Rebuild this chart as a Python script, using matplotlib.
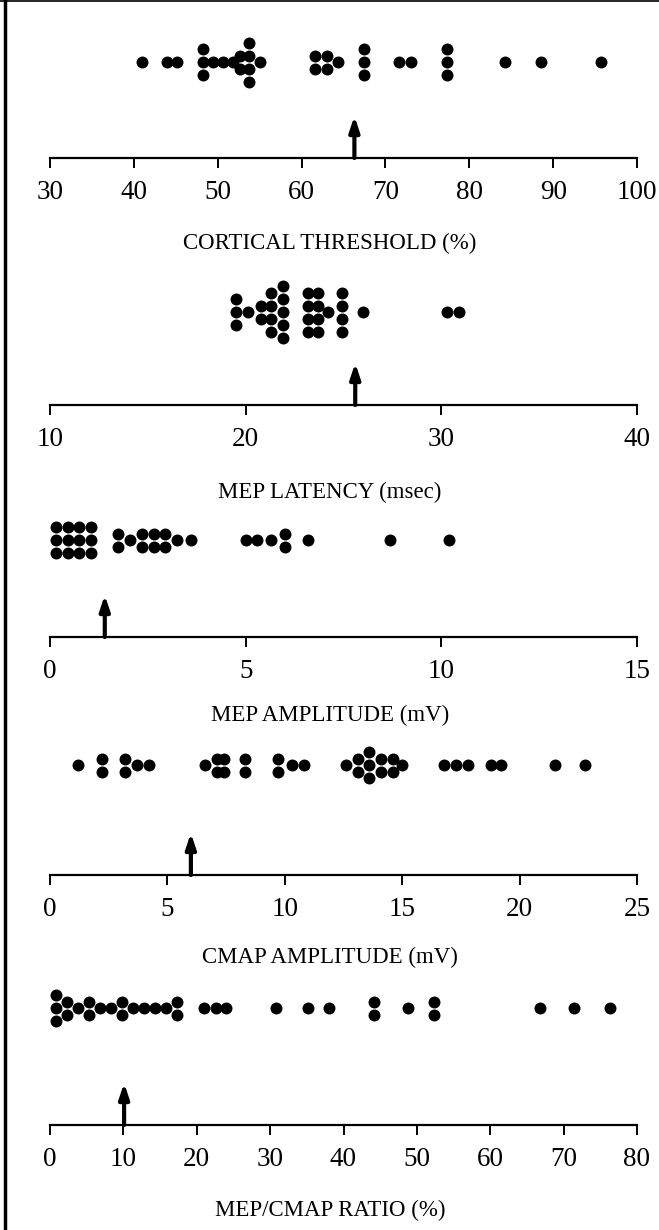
import numpy as np
import matplotlib
matplotlib.use("Agg")
import matplotlib.pyplot as plt
from matplotlib.lines import Line2D

# values, one dot per patient (repeats = stacked dots)
cortical = [41, 44, 45.2, 48.2, 48.2, 48.2, 49.4, 50.6, 51.8, 52.6, 52.6,
            53.7, 53.7, 53.7, 53.7, 55.0, 61.6, 61.6, 63.0, 63.0, 64.3,
            67.5, 67.5, 67.5, 71.6, 73.1, 77.3, 77.3, 77.3, 84.3, 88.5, 95.7]
latency = [19.5, 19.5, 19.5, 20.1, 20.8, 20.8, 21.3, 21.3, 21.3, 21.3,
           21.9, 21.9, 21.9, 21.9, 21.9, 23.2, 23.2, 23.2, 23.2,
           23.7, 23.7, 23.7, 23.7, 24.2, 24.9, 24.9, 24.9, 24.9,
           26.0, 30.3, 30.9]
mep_amp = [0.15, 0.15, 0.15, 0.45, 0.45, 0.45, 0.75, 0.75, 0.75,
           1.05, 1.05, 1.05, 1.75, 1.75, 2.05, 2.35, 2.35, 2.65, 2.65,
           2.95, 2.95, 3.25, 3.6, 5.0, 5.3, 5.65, 6.0, 6.0, 6.6, 8.7, 10.2]
cmap_amp = [1.2, 2.2, 2.2, 3.2, 3.2, 3.7, 4.2, 6.6, 7.1, 7.1, 7.4, 7.4,
            8.3, 8.3, 9.7, 9.7, 10.3, 10.8, 12.6, 13.1, 13.1, 13.6, 13.6,
            13.6, 14.1, 14.1, 14.6, 14.6, 15.0, 16.8, 17.3, 17.8, 18.8,
            19.2, 21.5, 22.8]
ratio = [0.8, 0.8, 0.8, 2.3, 2.3, 3.8, 5.3, 5.3, 6.8, 8.3, 9.8, 9.8,
         11.3, 12.8, 14.3, 15.8, 17.3, 17.3, 21.0, 22.6, 24.0, 30.8, 35.1,
         38.0, 44.2, 44.2, 48.8, 52.3, 52.3, 66.8, 71.4, 76.3]

# arrow markers (group means)
arrows = [66.3, 25.6, 1.4, 6.0, 10.1]

titles = ["CORTICAL THRESHOLD (%)", "MEP LATENCY (msec)", "MEP AMPLITUDE (mV)",
          "CMAP AMPLITUDE (mV)", "MEP/CMAP RATIO (%)"]
ranges = [(30, 100, 10), (10, 40, 10), (0, 15, 5), (0, 25, 5), (0, 80, 10)]
series = [cortical, latency, mep_amp, cmap_amp, ratio]

# layout in pixels from top of figure
W, H = 659, 1230
dots_y = [62, 312, 540, 765, 1008]
axis_y = [158, 405, 637, 875, 1125]
title_y = [243, 492, 715, 957, 1210]

plt.rcParams['font.family'] = ['Liberation Serif', 'DejaVu Serif']
fig = plt.figure(figsize=(W / 100, H / 100), dpi=100)

for i in range(5):
    top = dots_y[i] - 45
    ax = fig.add_axes([50 / W, (H - axis_y[i]) / H, 587 / W, (axis_y[i] - top) / H])
    ax.set_ylim(0, axis_y[i] - top)
    lo, hi, step = ranges[i]
    ax.set_xlim(lo, hi)
    ax.set_xticks(np.arange(lo, hi + step / 2, step))
    for s in ["top", "right", "left"]:
        ax.spines[s].set_visible(False)
    ax.spines["bottom"].set_linewidth(1.6)
    ax.set_yticks([])
    ax.tick_params(axis="x", length=7, width=1.4, pad=9, labelsize=19.5)
    ax.patch.set_alpha(0)

    vals, counts = np.unique(series[i], return_counts=True)
    row = axis_y[i] - dots_y[i]
    xs, ys = [], []
    for v, n in zip(vals, counts):
        for k in range(n):
            xs.append(v)
            ys.append(row + (k - (n - 1) / 2) * 13)
    ax.scatter(xs, ys, s=74, color="black", clip_on=False, zorder=3, linewidths=0)

    ax.annotate("", xy=(arrows[i], 42), xytext=(arrows[i], 0),
                arrowprops=dict(arrowstyle="-|>,head_width=0.3,head_length=0.9",
                                lw=3, color="black", shrinkA=0, shrinkB=0))

    fig.text(330 / W, 1 - title_y[i] / H, titles[i], ha="center", va="center",
             fontsize=16.5)

# frame line on the left of the page
fig.add_artist(Line2D([5 / W, 5 / W], [0, 1], color="black", lw=2.5))
fig.add_artist(Line2D([0, 1], [1 - 1 / H, 1 - 1 / H], color="black", lw=1.2))

plt.savefig("out.png", dpi=100)
